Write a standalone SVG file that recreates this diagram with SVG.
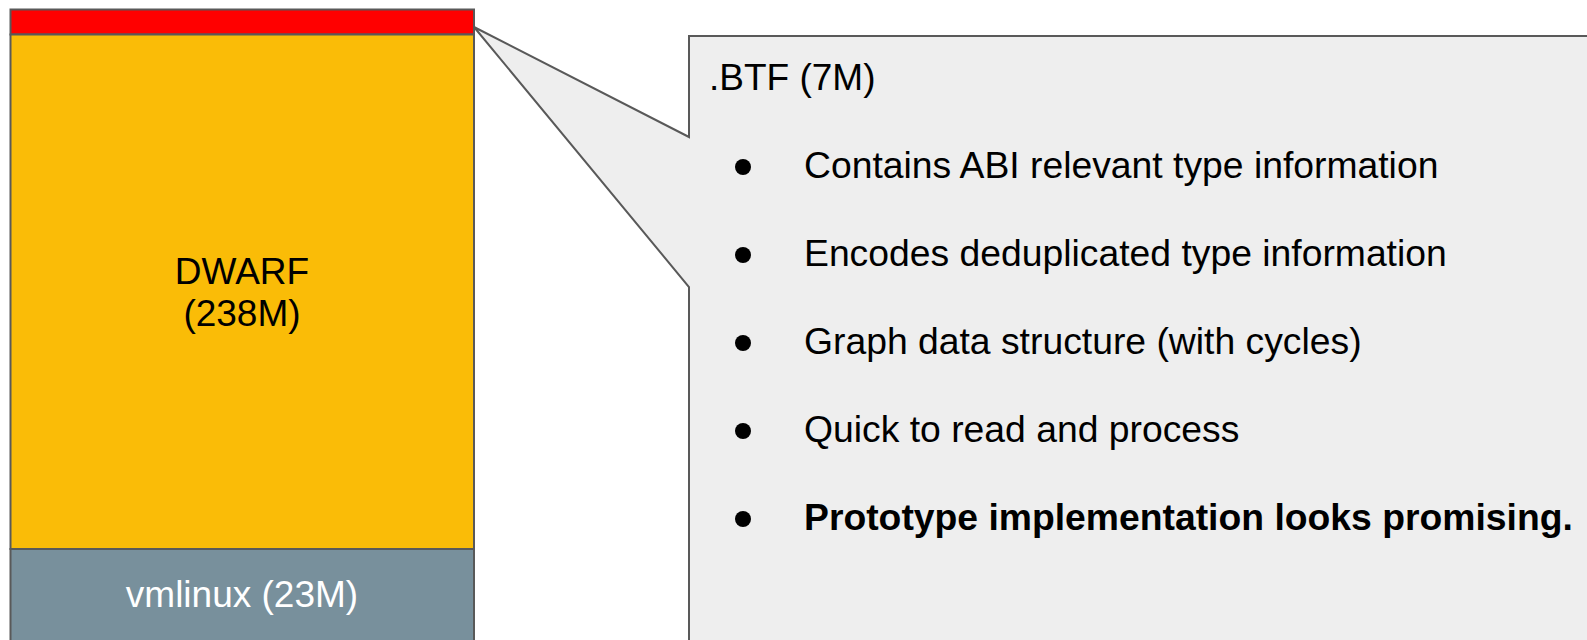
<svg xmlns="http://www.w3.org/2000/svg" width="1587" height="640" viewBox="0 0 1587 640">
  <style>
    .blk { stroke: #595959; stroke-width: 2; }
    .t { font-family: "Liberation Sans", Arial, sans-serif; font-size: 37px; fill: #000; }
    .li { font-size: 37.3px; }
    .c { text-anchor: middle; }
    .b { font-weight: bold; }
    .dot { fill: #000; }
  </style>
  <rect width="1587" height="640" fill="#ffffff"/>
  <g id="callout">
    <path class="blk" fill="#eeeeee" d="M689,36 L1600,36 L1600,660 L689,660 L689,287 L474,27 L689,137 Z"/>
    <text class="t" x="709" y="90">.BTF (7M)</text>
    <g id="bullets">
      <circle class="dot" cx="743" cy="167" r="8"/>
      <text class="t li" x="804" y="178">Contains ABI relevant type information</text>
      <circle class="dot" cx="743" cy="255" r="8"/>
      <text class="t li" x="804" y="266">Encodes deduplicated type information</text>
      <circle class="dot" cx="743" cy="343" r="8"/>
      <text class="t li" x="804" y="354">Graph data structure (with cycles)</text>
      <circle class="dot" cx="743" cy="431" r="8"/>
      <text class="t li" x="804" y="442">Quick to read and process</text>
      <circle class="dot" cx="743" cy="519" r="8"/>
      <text class="t li b" x="804" y="530">Prototype implementation looks promising.</text>
    </g>
  </g>
  <g id="btf">
    <rect class="blk" x="10.5" y="9.5" width="463.5" height="25" fill="#ff0000"/>
  </g>
  <g id="dwarf">
    <rect class="blk" x="10.5" y="34.5" width="463.5" height="514.5" fill="#fabc07"/>
    <text class="t c" x="242" y="284">DWARF</text>
    <text class="t c" x="242" y="326">(238M)</text>
  </g>
  <g id="vmlinux">
    <rect class="blk" x="10.5" y="549" width="463.5" height="100" fill="#78909c"/>
    <text class="t c" x="242" y="607" style="fill:#ffffff">vmlinux (23M)</text>
  </g>
  <g id="connectors"></g>
</svg>
